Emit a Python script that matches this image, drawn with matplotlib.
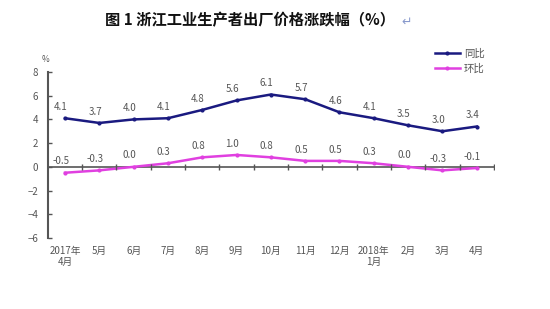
import matplotlib

matplotlib.use("Agg")
import matplotlib.pyplot as plt
import numpy as np

plt.rcParams["font.family"] = ["Noto Sans CJK SC", "DejaVu Sans"]

months = ["2017年\n4月", "5月", "6月", "7月", "8月", "9月", "10月",
          "11月", "12月", "2018年\n1月", "2月", "3月", "4月"]
yoy = [4.1, 3.7, 4.0, 4.1, 4.8, 5.6, 6.1, 5.7, 4.6, 4.1, 3.5, 3.0, 3.4]
mom = [-0.5, -0.3, 0.0, 0.3, 0.8, 1.0, 0.8, 0.5, 0.5, 0.3, 0.0, -0.3, -0.1]

NAVY = "#1a1a80"
PINK = "#e040e0"
GRAY = "#555555"

fig = plt.figure(figsize=(5.5, 3.09), dpi=100)
ax = fig.add_axes([0.087, 0.230, 0.811, 0.537])
x = np.arange(len(months))

ax.plot(x, yoy, color=NAVY, lw=1.8, marker="o", ms=2, label="同比")
ax.plot(x, mom, color=PINK, lw=1.8, marker="o", ms=2, label="环比")

for xi, v in zip(x, yoy):
    ax.annotate(f"{v:.1f}", (xi, v), textcoords="offset points", xytext=(-3, 6),
                ha="center", fontsize=7, color=GRAY)
for xi, v in zip(x, mom):
    ax.annotate(f"{v:.1f}", (xi, v), textcoords="offset points", xytext=(-3, 6),
                ha="center", fontsize=7, color=GRAY)

# zero line with small ticks between categories
ax.axhline(0, color=GRAY, lw=1.2, zorder=1)
ax.plot(x + 0.5, np.zeros(len(x)), ls="none", marker="|", ms=4, color=GRAY, mew=1)

ax.set_xlim(-0.5, len(months) - 0.5)
ax.set_ylim(-6, 8)
ax.set_yticks(range(-6, 9, 2))
ax.set_xticks(x)
ax.set_xticklabels(months, fontsize=7, color=GRAY, va="top", linespacing=1.1)
ax.tick_params(axis="x", length=0, pad=6)
ax.tick_params(axis="y", direction="in", length=3, width=1, colors=GRAY, labelsize=7, pad=7)

for s in ("top", "right", "bottom"):
    ax.spines[s].set_visible(False)
ax.spines["left"].set_color(GRAY)
ax.spines["left"].set_linewidth(1.5)

fig.text(0.082, 0.80, "%", fontsize=6, color=GRAY, ha="center")
fig.text(0.455, 0.935, "图 1 浙江工业生产者出厂价格涨跌幅（%）", fontsize=11,
         fontweight="bold", ha="center", va="center", color="#111111")
fig.text(0.73, 0.928, "↵", fontsize=9, color="#8899cc", ha="left", va="center",
         family=["DejaVu Sans"])

ax.legend(loc="upper right", bbox_to_anchor=(1.0, 1.2), frameon=False,
          fontsize=7.5, handlelength=2.4, labelspacing=0.5, handletextpad=0.4,
          labelcolor=GRAY)

fig.savefig("out.png", dpi=100, facecolor="white")
